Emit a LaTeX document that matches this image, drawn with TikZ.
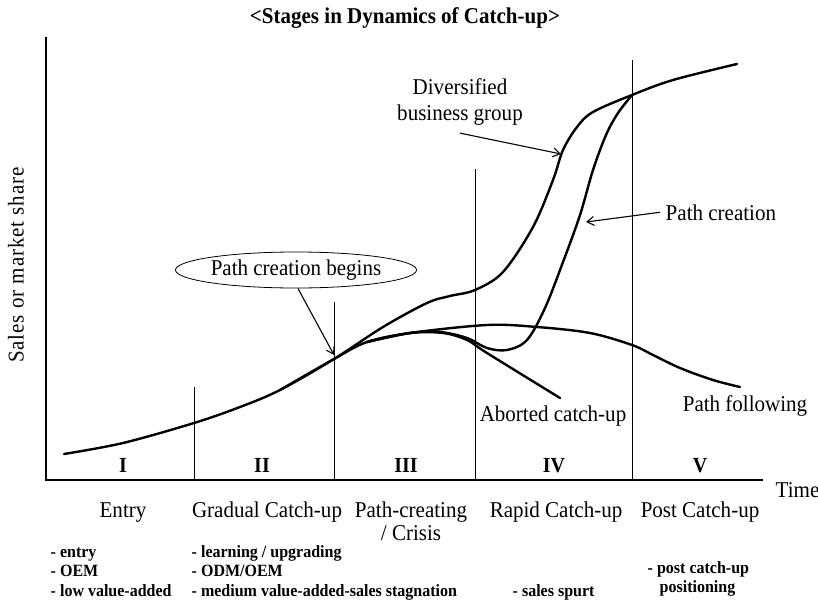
\documentclass[tikz,border=0pt]{standalone}
\usepackage{fontspec}
\setmainfont{Liberation Serif}[FakeStretch=0.93]
\usetikzlibrary{shapes.geometric,arrows.meta}

\begin{document}
\begin{tikzpicture}[x=1pt,y=-1pt,thick,
  curve/.style={line width=2.4pt,line join=round,line cap=round},
  divider/.style={line width=0.8pt},
  pointer/.style={-{Straight Barb[length=7pt,width=9pt]},line width=1.1pt},
  lbl/.style={font=\fontsize{22.6}{26}\selectfont},
  stagenum/.style={font=\fontsize{21.5}{24}\selectfont\bfseries,anchor=base},
  stagename/.style={font=\fontsize{22.6}{26}\selectfont,anchor=base},
  note/.style={font=\fontsize{17.2}{19.5}\selectfont\bfseries,anchor=base west}]

\useasboundingbox (0,0) rectangle (818,602);

\node[font=\fontsize{22.6}{26}\selectfont\bfseries,anchor=base] (title) at (405,24) {<Stages in Dynamics of Catch-up>};

% Draw axes, and stage dividers.
\coordinate (orig) at (46,480);
\draw[line width=1.2pt] (46,37) -- (orig) -- (763,480);
\node[lbl,anchor=base west] (time) at (772,497) {Time};
\node[lbl,rotate=90,font=\fontsize{22.6}{26}\selectfont\addfontfeatures{LetterSpace=4}] (ylab) at (16,265) {Sales or market share};

\foreach \x/\top in {194/387,334/302,475/169,632/60}
\draw[divider] (\x,\top) -- (\x,480);

\foreach \x/\r [count=\i] in {123/I,262/II,406/III,554/IV,700/V}
\node[stagenum] (num\i) at (\x,472) {\r};

%Stage names
\node[stagename] (entry) at (123,517) {Entry};
\node[stagename] (gradual) at (267,517) {Gradual Catch-up};
\node[stagename] (pathcreating) at (411,517) {Path-creating};
\node[stagename] (crisis) at (411,540) {/ Crisis};
\node[stagename] (rapid) at (556,517) {Rapid Catch-up};
\node[stagename] (post) at (700,517) {Post Catch-up};

% Features of each stage
\node[note] (entryA) at (47,557) {- entry};
\node[note] (entryB) at (47,576) {- OEM};
\node[note] (entryC) at (47,596) {- low value-added};
\node[note] (gradualA) at (188,557) {- learning / upgrading};
\node[note] (gradualB) at (188,576) {- ODM/OEM};
\node[note] (gradualC) at (188,596) {- medium value-added-sales stagnation};
\node[note] (rapidA) at (509,596) {- sales spurt};
\node[note] (postA) at (644,573) {- post catch-up};
\node[note] (postB) at (656,592) {positioning};

% Catch-up paths
\draw[curve] plot[smooth,tension=0.55] coordinates {(64,454) (123,443) (194,423) (240,407) (280,390) (334,359)
  (383,327) (427,303) (450,296) (475,290) (503,272) (533,227) (553,180) (563,150) (577,127) (593,112) (632,95) (673,80) (737,64)};
\draw[curve] plot[smooth,tension=0.55] coordinates {(280,390) (334,359) (367,342) (410,333) (487,325) (537,327) (590,333)
  (632,345) (653,355) (680,368) (713,380) (740,387)};
\draw[curve] plot[smooth,tension=0.55] coordinates {(367,342) (410,333) (440,332) (467,338) (487,348) (507,350) (527,340)
  (545,308) (563,262) (580,215) (593,170) (606,135) (618,113) (632,95)};
\draw[curve] plot[smooth,tension=0.55] coordinates {(367,342) (410,333) (443,333) (467,340) (487,353) (560,398)};

% Labels and pointers
\node[lbl,draw,ellipse,line width=0.8pt,minimum width=206pt,minimum height=36pt,inner sep=0pt] (begins) at (296,270) {Path creation begins};
\coordinate (pcb) at (334,355);
\draw[pointer] (begins.-84) -- (pcb);

\node[lbl,align=center,font=\fontsize{22.6}{26}\selectfont] (divers) at (460,102) {Diversified\\business group};
\coordinate (dbg) at (561,154);
\draw[pointer] ([yshift=-4pt]divers.south) -- (dbg);

\node[lbl,anchor=base west] (pathcreation) at (662,220) {Path creation};
\coordinate (pc) at (586,222);
\draw[pointer] ([xshift=-2pt]pathcreation.west) -- (pc);

\node[lbl,anchor=base] (aborted) at (553,421) {Aborted catch-up};
\node[lbl,anchor=base] (following) at (745,411) {Path following};

\end{tikzpicture}
\end{document}
